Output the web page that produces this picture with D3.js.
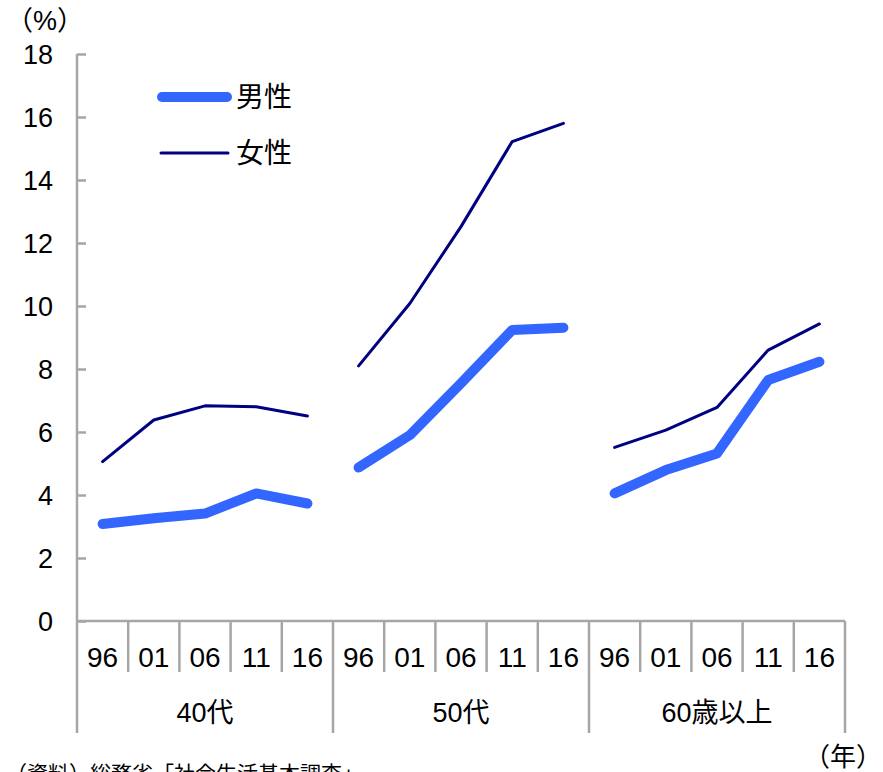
<!DOCTYPE html>
<html>
<head>
<meta charset="utf-8">
<script src="https://cdn.jsdelivr.net/npm/d3@7"></script>
<style>
  body { margin: 0; background: #fff; }
  text { font-family: "Liberation Sans", "Noto Sans CJK JP", sans-serif; fill: #000; }
</style>
</head>
<body>
<div id="chart"></div>
<script>
const groups = ['40代', '50代', '60歳以上']
const years = ['96', '01', '06', '11', '16']
const male = [
  [3.08, 3.26, 3.41, 4.05, 3.73],
  [4.87, 5.90, 7.55, 9.24, 9.31],
  [4.05, 4.79, 5.32, 7.65, 8.23]
]
const female = [
  [5.06, 6.38, 6.83, 6.80, 6.51],
  [8.10, 10.08, 12.52, 15.22, 15.80],
  [5.51, 6.06, 6.78, 8.60, 9.43]
]
const yTicks = [0, 2, 4, 6, 8, 10, 12, 14, 16, 18]

const width = 883, height = 772
const plot = { left: 77, right: 845, top: 54, bottom: 621 }
const axisColor = '#a6a6a6'
const maleColor = '#3366ff'
const femaleColor = '#000080'

const svg = d3.select('#chart')
  .append('svg')
  .attr('width', width)
  .attr('height', height)

// one band per (group, year) pair
const cells = groups.flatMap(g => years.map(yr => g + '|' + yr))
const x = d3.scaleBand().domain(cells).range([plot.left, plot.right])
const y = d3.scaleLinear().domain([0, 18]).range([plot.bottom, plot.top])

// y axis with inward ticks
const yAxis = svg.append('g')
  .attr('transform', 'translate(' + plot.left + ',0)')
  .call(d3.axisRight(y).tickValues(yTicks).tickSize(9).tickFormat(''))
yAxis.select('.domain').remove()
yAxis.selectAll('line').attr('stroke', axisColor).attr('stroke-width', 2.5)
svg.append('line')
  .attr('x1', plot.left).attr('x2', plot.left)
  .attr('y1', y(18)).attr('y2', plot.bottom)
  .attr('stroke', axisColor).attr('stroke-width', 2.5)

svg.selectAll('text.ytick')
  .data(yTicks)
  .enter()
  .append('text')
  .classed('ytick', true)
  .attr('x', 53)
  .attr('y', d => y(d) + 1)
  .attr('text-anchor', 'end')
  .attr('dominant-baseline', 'central')
  .attr('font-size', 27)
  .text(d => d)

// x axis line and category separators
svg.append('line')
  .attr('x1', plot.left).attr('x2', plot.right)
  .attr('y1', plot.bottom).attr('y2', plot.bottom)
  .attr('stroke', axisColor).attr('stroke-width', 2.5)

const seps = cells.map(c => x(c)).concat([plot.right])
svg.selectAll('line.sep')
  .data(seps)
  .enter()
  .append('line')
  .classed('sep', true)
  .attr('x1', d => d).attr('x2', d => d)
  .attr('y1', plot.bottom)
  .attr('y2', (d, i) => i % years.length === 0 ? 733 : 672)
  .attr('stroke', axisColor)
  .attr('stroke-width', 2.5)

svg.selectAll('text.year')
  .data(cells)
  .enter()
  .append('text')
  .classed('year', true)
  .attr('x', d => x(d) + x.bandwidth() / 2)
  .attr('y', 657)
  .attr('text-anchor', 'middle')
  .attr('dominant-baseline', 'central')
  .attr('font-size', 28)
  .text(d => d.split('|')[1])

svg.selectAll('text.group')
  .data(groups)
  .enter()
  .append('text')
  .classed('group', true)
  .attr('x', g => (x(g + '|' + years[0]) + x(g + '|' + years[years.length - 1]) + x.bandwidth()) / 2)
  .attr('y', 713)
  .attr('text-anchor', 'middle')
  .attr('dominant-baseline', 'central')
  .attr('font-size', 27)
  .text(g => g)

// lines, one segment per group
const line = d3.line()
  .x(d => x(d.cell) + x.bandwidth() / 2)
  .y(d => y(d.value))

const toPoints = (vals, g) => vals.map((v, i) => ({ cell: g + '|' + years[i], value: v }))

svg.selectAll('path.female')
  .data(groups.map((g, gi) => toPoints(female[gi], g)))
  .enter()
  .append('path')
  .classed('female', true)
  .attr('d', line)
  .attr('fill', 'none')
  .attr('stroke', femaleColor)
  .attr('stroke-width', 3)
  .attr('stroke-linecap', 'round')
  .attr('stroke-linejoin', 'round')

svg.selectAll('path.male')
  .data(groups.map((g, gi) => toPoints(male[gi], g)))
  .enter()
  .append('path')
  .classed('male', true)
  .attr('d', line)
  .attr('fill', 'none')
  .attr('stroke', maleColor)
  .attr('stroke-width', 10)
  .attr('stroke-linecap', 'round')
  .attr('stroke-linejoin', 'round')

// legend
const legend = [
  { label: '男性', color: maleColor, w: 10, x1: 162, x2: 227, y: 97 },
  { label: '女性', color: femaleColor, w: 3, x1: 161, x2: 228, y: 153 }
]
const lg = svg.selectAll('g.legend')
  .data(legend)
  .enter()
  .append('g')
  .classed('legend', true)
lg.append('line')
  .attr('x1', d => d.x1).attr('x2', d => d.x2)
  .attr('y1', d => d.y).attr('y2', d => d.y)
  .attr('stroke', d => d.color)
  .attr('stroke-width', d => d.w)
  .attr('stroke-linecap', 'round')
lg.append('text')
  .attr('x', 236)
  .attr('y', d => d.y)
  .attr('dominant-baseline', 'central')
  .attr('font-size', 28)
  .text(d => d.label)

// unit labels and source
svg.append('text')
  .attr('x', 6).attr('y', 21)
  .attr('dominant-baseline', 'central')
  .attr('font-size', 27)
  .text('（%）')
svg.append('text')
  .attr('x', 882).attr('y', 757)
  .attr('text-anchor', 'end')
  .attr('dominant-baseline', 'central')
  .attr('font-size', 26)
  .text('（年）')
svg.append('text')
  .attr('x', 6).attr('y', 781)
  .attr('font-size', 21)
  .text('（資料）総務省「社会生活基本調査」')
</script>
</body>
</html>
